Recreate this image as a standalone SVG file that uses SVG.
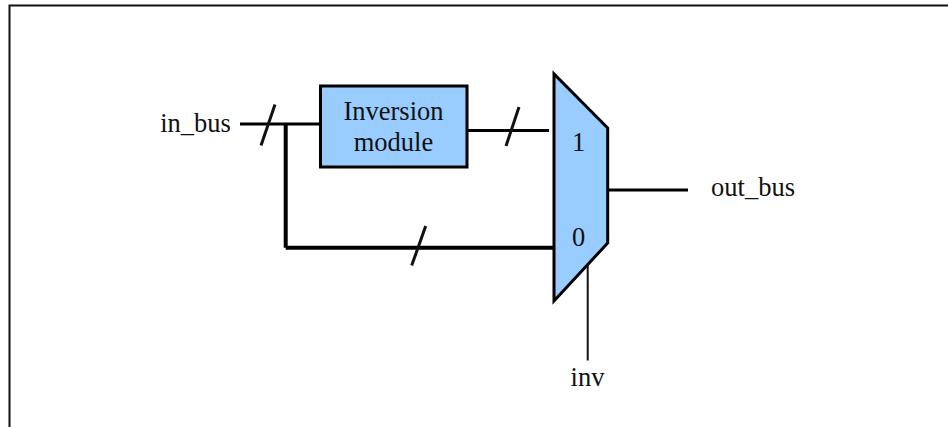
<svg xmlns="http://www.w3.org/2000/svg" width="948" height="427" viewBox="0 0 948 427">
<style>
text{font-family:"Liberation Serif","Times New Roman",serif;font-size:26.5px;fill:#111;text-anchor:middle}
.w{fill:none;stroke:#000;stroke-width:3}
.t{fill:none;stroke:#000;stroke-width:4}
.s{fill:none;stroke:#111;stroke-width:3}
.f{fill:#99ccff;stroke:#000;stroke-width:3}
</style>
<rect width="948" height="427" fill="#fff"/>
<path id="frame" d="M9.5 427V5.5H948" fill="none" stroke="#111" stroke-width="2"/>
<g id="connectors">
<path class="w" d="M240 124H320"/>
<path class="s" d="M275 104.5L261 145.5"/>
<path class="t" d="M285.7 124V247.7M285.7 247.7H554"/>
<path class="s" d="M425.7 226L411.7 265.5"/>
<path class="w" d="M467 130.5H549"/>
<path class="s" d="M519 107L506 146"/>
<path class="w" d="M607 190H688"/>
<path class="s" style="stroke-width:2" d="M587.7 265V360.5"/>
</g>
<g id="in_bus"><text x="195.5" y="131.500">in_bus</text></g>
<g id="inversion"><rect class="f" x="320.5" y="86" width="146.5" height="81"/><text x="393.5" y="120">Inversion</text><text x="393.5" y="151">module</text></g>
<g id="mux"><path class="f" d="M554 74V301L607.7 243V128Z"/><text x="578.500" y="151">1</text><text x="578.500" y="246">0</text></g>
<g id="out_bus"><text x="753" y="196">out_bus</text></g>
<g id="inv"><text x="587.500" y="386">inv</text></g>
</svg>
